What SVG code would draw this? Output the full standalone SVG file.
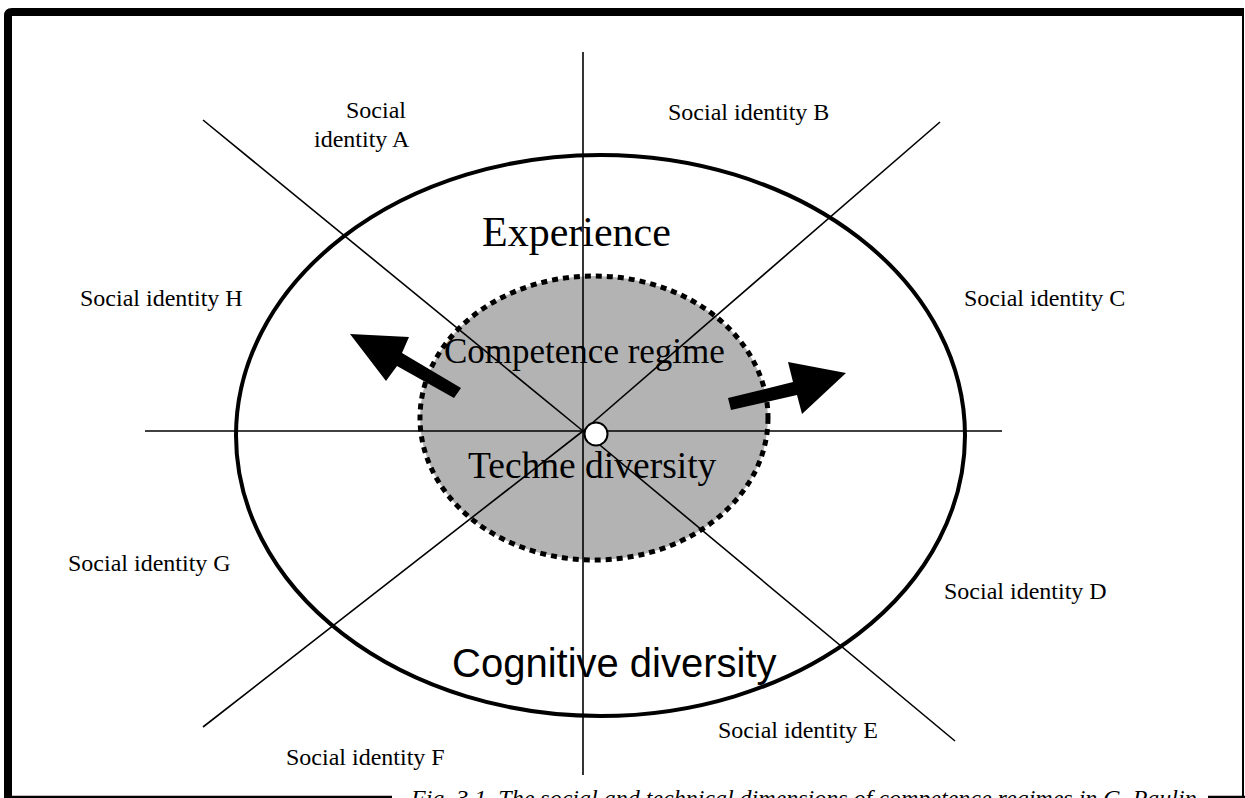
<svg xmlns="http://www.w3.org/2000/svg" width="1245" height="798" viewBox="0 0 1245 798">
  <style>
    .axis { stroke: #000; stroke-width: 1.6; fill: none; }
    .lbl { font-family: "Liberation Serif", "Times New Roman", serif; font-size: 24px; fill: #000; }
    .big { font-family: "Liberation Serif", "Times New Roman", serif; fill: #000; }
    .sans { font-family: "Liberation Sans", Arial, sans-serif; fill: #000; }
    .cap { font-family: "Liberation Serif", "Times New Roman", serif; font-style: italic; font-size: 24px; fill: #000; }
  </style>

  <rect width="1245" height="798" fill="#fff"/>

  <!-- frame -->
  <g id="frame">
    <line x1="1243" y1="12" x2="1243" y2="798" stroke="#000" stroke-width="2"/>
    <line x1="8" y1="797" x2="1245" y2="797" stroke="#000" stroke-width="2.5"/>
    <path d="M8 798 V16 Q8 12 12 12 H1244" fill="none" stroke="#000" stroke-width="8"/>
  </g>

  <!-- shaded core region -->
  <g id="core">
    <ellipse cx="594" cy="418" rx="174" ry="142" fill="#b3b3b3"/>
  </g>

  <!-- connectors: axes radiating from the centre -->
  <g id="connectors">
    <line class="axis" x1="583" y1="52" x2="583" y2="775"/>
    <line class="axis" x1="145" y1="431" x2="1002" y2="431"/>
    <line class="axis" x1="203" y1="120" x2="583" y2="431"/>
    <line class="axis" x1="583" y1="431" x2="955" y2="741"/>
    <line class="axis" x1="583" y1="431" x2="940" y2="122"/>
    <line class="axis" x1="583" y1="431" x2="203" y2="727"/>
  </g>

  <g id="core-border">
    <ellipse cx="594" cy="418" rx="174" ry="142" fill="none" stroke="#000" stroke-width="5" stroke-dasharray="6 5"/>
  </g>

  <g id="outer">
    <ellipse cx="600.5" cy="435.5" rx="364.5" ry="280.5" fill="none" stroke="#000" stroke-width="4"/>
  </g>

  <g id="centre">
    <circle cx="596" cy="434" r="11.5" fill="#fff" stroke="#000" stroke-width="2"/>
  </g>

  <!-- outward arrows -->
  <g id="arrow-left">
    <polygon points="461,388 454,398 397,366 386,381 350,334 409,337 402,353" fill="#000"/>
  </g>
  <g id="arrow-right">
    <polygon points="728,398 731,410 797,395 802,414 846,373 788,362 793,382" fill="#000"/>
  </g>

  <!-- inner labels -->
  <g id="experience"><text class="big" x="482" y="246" font-size="42">Experience</text></g>
  <g id="competence"><text class="big" x="444" y="363" font-size="35">Competence regime</text></g>
  <g id="techne"><text class="big" x="468" y="478" font-size="37.5">Techne diversity</text></g>
  <g id="cognitive"><text class="sans" x="452" y="677" font-size="40">Cognitive diversity</text></g>

  <!-- social identities -->
  <g id="identity-a">
    <text class="lbl" x="346" y="118">Social</text>
    <text class="lbl" x="314" y="147">identity A</text>
  </g>
  <g id="identity-b"><text class="lbl" x="668" y="120">Social identity B</text></g>
  <g id="identity-c"><text class="lbl" x="964" y="306">Social identity C</text></g>
  <g id="identity-d"><text class="lbl" x="944" y="599">Social identity D</text></g>
  <g id="identity-e"><text class="lbl" x="718" y="738">Social identity E</text></g>
  <g id="identity-f"><text class="lbl" x="286" y="765">Social identity F</text></g>
  <g id="identity-g"><text class="lbl" x="68" y="571">Social identity G</text></g>
  <g id="identity-h"><text class="lbl" x="80" y="306">Social identity H</text></g>

  <!-- caption strip along the lower edge -->
  <g id="caption">
    <rect x="392" y="784" width="816" height="14" fill="#fff"/>
    <text class="cap" x="411" y="806">Fig. 3.1. The social and technical dimensions of competence regimes in G. Paulin</text>
  </g>
</svg>
